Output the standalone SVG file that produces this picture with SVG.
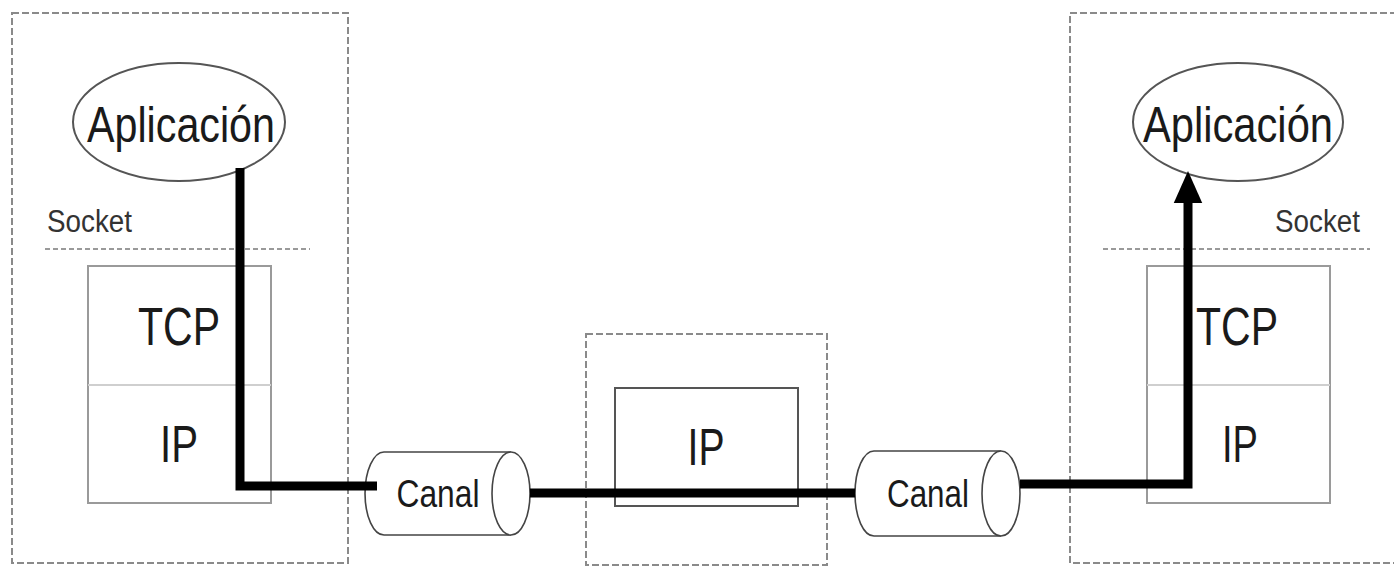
<svg xmlns="http://www.w3.org/2000/svg" width="1394" height="567" viewBox="0 0 1394 567">
<style>
.frame{fill:none;stroke:#8a8a8a;stroke-width:2;stroke-dasharray:7 3}
.sock{fill:none;stroke:#9a9a9a;stroke-width:2;stroke-dasharray:5 3}
.stack{fill:#fff;stroke:#9a9a9a;stroke-width:2}
.div{stroke:#cfcfcf;stroke-width:2}
.app{fill:#fff;stroke:#555;stroke-width:2}
.cyl{fill:#fff;stroke:#444;stroke-width:1.6}
.t{font-family:"Liberation Sans",Arial,sans-serif;fill:#1a1a1a;text-anchor:middle}
.s{font-family:"Liberation Sans",Arial,sans-serif;fill:#333}
.wire{fill:none;stroke:#000;stroke-width:9;stroke-linejoin:miter}
</style>
<defs>
<marker id="arr" markerUnits="userSpaceOnUse" markerWidth="32" markerHeight="36" refX="0" refY="16" orient="auto" viewBox="0 0 36 32">
<path d="M0,0 L36,16 L0,32 Z" fill="#000"/>
</marker>
</defs>
<rect width="1394" height="567" fill="#fff"/>

<g id="host-left">
<rect class="frame" x="12" y="13" width="336" height="550"/>
<text class="s" x="47" y="232" font-size="31" textLength="85" lengthAdjust="spacingAndGlyphs">Socket</text>
<line class="sock" x1="45" y1="249" x2="310" y2="249"/>
</g>
<g id="app-left">
<ellipse class="app" cx="179" cy="122" rx="106" ry="59"/>
<text class="t" x="181" y="142" font-size="50" textLength="188" lengthAdjust="spacingAndGlyphs">Aplicación</text>
</g>
<g id="stack-left">
<rect class="stack" x="88" y="266" width="183" height="237"/>
<line class="div" x1="88" y1="385" x2="271" y2="385"/>
<text class="t" x="179" y="345" font-size="53" textLength="82" lengthAdjust="spacingAndGlyphs">TCP</text>
<text class="t" x="179" y="462" font-size="52" textLength="38" lengthAdjust="spacingAndGlyphs">IP</text>
</g>

<g id="router">
<rect class="frame" x="586" y="334" width="241" height="231"/>
<rect x="615" y="388" width="183" height="118" fill="#fff" stroke="#555" stroke-width="2"/>
<text class="t" x="706" y="465" font-size="52" textLength="37" lengthAdjust="spacingAndGlyphs">IP</text>
</g>

<g id="canal-left">
<path class="cyl" d="M511,452 L384,452 A19,41.5 0 0 0 384,535 L511,535"/>
<ellipse class="cyl" cx="511" cy="493.5" rx="19" ry="41.5"/>
<text class="t" x="438" y="507" font-size="38" textLength="83" lengthAdjust="spacingAndGlyphs">Canal</text>
</g>
<g id="canal-right">
<path class="cyl" d="M1001,451 L874,451 A19,42.5 0 0 0 874,536 L1001,536"/>
<ellipse class="cyl" cx="1001" cy="493.5" rx="19" ry="42.5"/>
<text class="t" x="928" y="507" font-size="38" textLength="82" lengthAdjust="spacingAndGlyphs">Canal</text>
</g>

<g id="host-right">
<rect class="frame" x="1070" y="13" width="340" height="550"/>
<text class="s" x="1275" y="232" font-size="31" textLength="85" lengthAdjust="spacingAndGlyphs">Socket</text>
<line class="sock" x1="1103" y1="249" x2="1370" y2="249"/>
</g>
<g id="stack-right">
<rect class="stack" x="1147" y="266" width="183" height="237"/>
<line class="div" x1="1147" y1="385" x2="1330" y2="385"/>
<text class="t" x="1237" y="345" font-size="53" textLength="82" lengthAdjust="spacingAndGlyphs">TCP</text>
<text class="t" x="1240" y="462" font-size="52" textLength="36" lengthAdjust="spacingAndGlyphs">IP</text>
</g>
<g id="app-right">
<ellipse class="app" cx="1238" cy="122" rx="105" ry="59"/>
<text class="t" x="1238" y="142" font-size="50" textLength="190" lengthAdjust="spacingAndGlyphs">Aplicación</text>
</g>

<g id="connectors">
<path class="wire" d="M240,168 L240,486 L377,486"/>
<path class="wire" d="M530,493 L855,493"/>
<path class="wire" d="M1020,484 L1188,484 L1188,203" marker-end="url(#arr)"/>
</g>
</svg>
